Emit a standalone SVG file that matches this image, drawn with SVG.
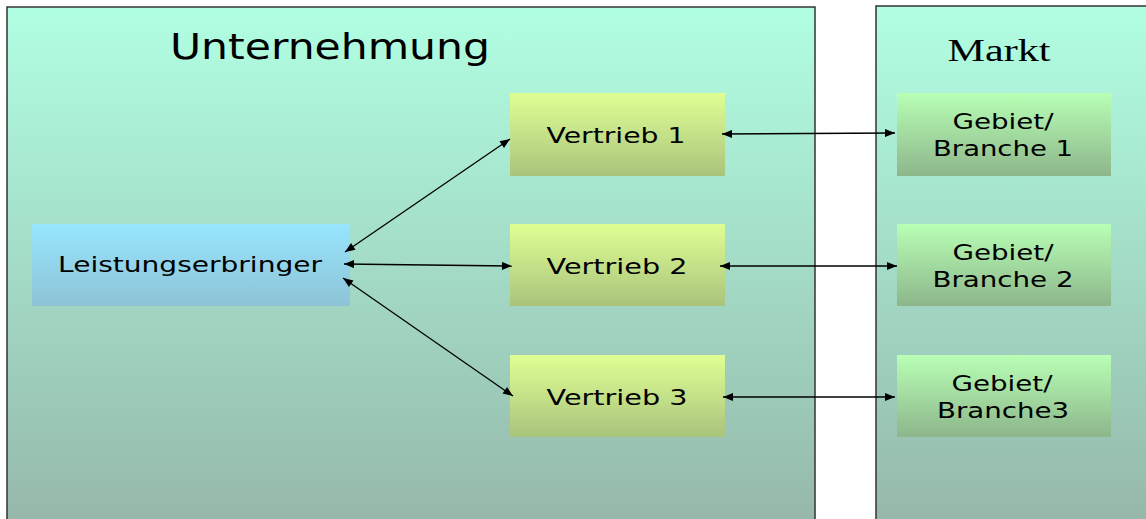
<svg xmlns="http://www.w3.org/2000/svg" width="1146" height="519" viewBox="0 0 1146 519">
<style>
.frame{stroke:#333;stroke-width:1.5}
.t{font-family:"DejaVu Sans",Verdana,sans-serif;font-size:22px;fill:#000;text-anchor:middle}
.c{stroke:#000;stroke-width:1.3;fill:none;marker-start:url(#ah);marker-end:url(#ah)}
</style>
<defs>
<linearGradient id="bg" x1="0" y1="0" x2="0" y2="1">
<stop offset="0" stop-color="#B1FFE2"/>
<stop offset="1" stop-color="#95B6A9"/>
</linearGradient>
<linearGradient id="gl" x1="0" y1="0" x2="0" y2="1">
<stop offset="0" stop-color="#97E5FF"/>
<stop offset="1" stop-color="#8EC3D6"/>
</linearGradient>
<linearGradient id="gv" x1="0" y1="0" x2="0" y2="1">
<stop offset="0" stop-color="#DFFF94"/>
<stop offset="1" stop-color="#AAC37C"/>
</linearGradient>
<linearGradient id="gg" x1="0" y1="0" x2="0" y2="1">
<stop offset="0" stop-color="#B8FFB5"/>
<stop offset="1" stop-color="#8DB68B"/>
</linearGradient>
<marker id="ah" viewBox="0 0 10 8" refX="10" refY="4" markerWidth="11" markerHeight="8" markerUnits="userSpaceOnUse" orient="auto-start-reverse">
<path d="M0,0 L10,4 L0,8 Z" fill="#000"/>
</marker>
</defs>
<g id="unternehmung">
<rect class="frame" x="7" y="7" width="808" height="530" fill="url(#bg)"/>
<text class="t" x="330" y="59" style="font-size:35px" textLength="320" lengthAdjust="spacingAndGlyphs">Unternehmung</text>
</g>
<g id="markt">
<rect class="frame" x="876" y="6" width="290" height="530" fill="url(#bg)"/>
<text x="999" y="61" font-family="Liberation Serif,Times New Roman,serif" font-size="31" text-anchor="middle" textLength="103" lengthAdjust="spacingAndGlyphs">Markt</text>
</g>
<g id="leistungserbringer">
<rect x="32" y="224" width="318" height="82" fill="url(#gl)"/>
<text class="t" x="190" y="272" textLength="264" lengthAdjust="spacingAndGlyphs">Leistungserbringer</text>
</g>
<g id="vertrieb1">
<rect x="510" y="93" width="215" height="83" fill="url(#gv)"/>
<text class="t" x="616" y="143" textLength="139" lengthAdjust="spacingAndGlyphs">Vertrieb 1</text>
</g>
<g id="vertrieb2">
<rect x="510" y="224" width="215" height="82" fill="url(#gv)"/>
<text class="t" x="617" y="274" textLength="141" lengthAdjust="spacingAndGlyphs">Vertrieb 2</text>
</g>
<g id="vertrieb3">
<rect x="510" y="355" width="215" height="82" fill="url(#gv)"/>
<text class="t" x="617" y="405" textLength="141" lengthAdjust="spacingAndGlyphs">Vertrieb 3</text>
</g>
<g id="gebiet1">
<rect x="897" y="93" width="214" height="83" fill="url(#gg)"/>
<text class="t" x="1003" y="129" textLength="101" lengthAdjust="spacingAndGlyphs">Gebiet/</text>
<text class="t" x="1003" y="156" textLength="140" lengthAdjust="spacingAndGlyphs">Branche 1</text>
</g>
<g id="gebiet2">
<rect x="897" y="224" width="214" height="82" fill="url(#gg)"/>
<text class="t" x="1003" y="260" textLength="101" lengthAdjust="spacingAndGlyphs">Gebiet/</text>
<text class="t" x="1003" y="287" textLength="141" lengthAdjust="spacingAndGlyphs">Branche 2</text>
</g>
<g id="gebiet3">
<rect x="897" y="355" width="214" height="82" fill="url(#gg)"/>
<text class="t" x="1002" y="391" textLength="101" lengthAdjust="spacingAndGlyphs">Gebiet/</text>
<text class="t" x="1003" y="418" textLength="132" lengthAdjust="spacingAndGlyphs">Branche3</text>
</g>
<g id="connectors">
<line class="c" x1="345" y1="252" x2="510" y2="139"/>
<line class="c" x1="344" y1="264" x2="512" y2="266"/>
<line class="c" x1="343" y1="278" x2="513" y2="396"/>
<line class="c" x1="722" y1="134" x2="895" y2="133"/>
<line class="c" x1="720" y1="266" x2="897" y2="266"/>
<line class="c" x1="723" y1="397" x2="895" y2="397"/>
</g>
</svg>
